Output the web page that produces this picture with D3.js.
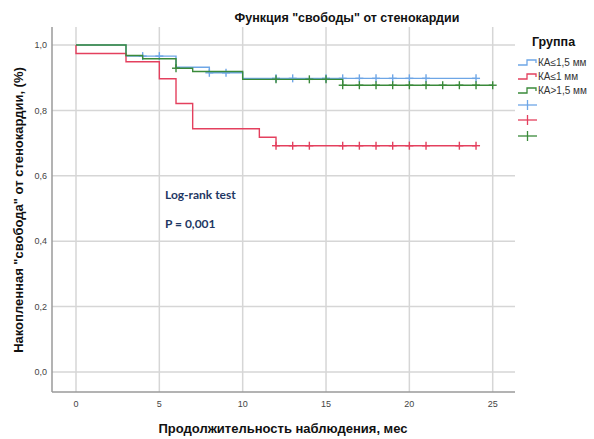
<!DOCTYPE html>
<html><head><meta charset="utf-8">
<script src="https://cdn.jsdelivr.net/npm/d3@7"></script>
<style>body{margin:0;background:#fff}svg{display:block}</style>
</head><body>
<svg id="c" width="594" height="439"></svg>
<script>
const groupNames = ["КА≤1,5 мм", "КА≤1 мм", "КА>1,5 мм"];
const groupColors = ["#6ea6e6", "#e4405e", "#3a8a3a"];
const xTicks = [0, 5, 10, 15, 20, 25];
const yTicks = [0, 0.2, 0.4, 0.6, 0.8, 1.0];

const blueTimes = [0, 3, 6, 8, 10, 24];
const blueSurv  = [1, 0.966, 0.932, 0.915, 0.898, 0.898];
const blueCens  = [4, 5, 8, 9, 12, 13, 15, 16, 17, 18, 19, 20, 21, 24];

const redTimes = [0, 0, 3, 5, 6, 7, 11, 12, 24];
const redSurv  = [1, 0.974, 0.949, 0.897, 0.821, 0.744, 0.718, 0.692, 0.692];
const redCens  = [12, 13, 14, 16, 17, 18, 19, 20, 21, 23, 24];

const greenTimes = [0, 3, 4, 6, 7, 10, 16, 25];
const greenSurv  = [1, 0.968, 0.958, 0.929, 0.919, 0.895, 0.877, 0.877];
const greenCens  = [6, 12, 14, 15, 16, 17, 18, 19, 20, 21, 22, 23, 24, 25];

const series = [
  {times: blueTimes, surv: blueSurv, cens: blueCens},
  {times: redTimes, surv: redSurv, cens: redCens},
  {times: greenTimes, surv: greenSurv, cens: greenCens}
];

const svg = d3.select("#c");
const x = d3.scaleLinear().domain([0, 25]).range([76, 492.7]);
const y = d3.scaleLinear().domain([0, 1]).range([372, 45]);
const plotL = 52, plotR = 515, plotT = 27, plotB = 392;

// gridlines
svg.append("g").selectAll("line").data(xTicks).join("line")
  .attr("x1", d => x(d)).attr("x2", d => x(d))
  .attr("y1", plotT).attr("y2", plotB)
  .attr("stroke", "#d6d6d6").attr("stroke-width", 1.5);
svg.append("g").selectAll("line").data(yTicks).join("line")
  .attr("x1", plotL).attr("x2", plotR)
  .attr("y1", d => y(d)).attr("y2", d => y(d))
  .attr("stroke", "#d6d6d6").attr("stroke-width", 1.5);

// axes lines
svg.append("line").attr("x1", plotL).attr("x2", plotL).attr("y1", plotT).attr("y2", plotB)
  .attr("stroke", "#9a9a9a").attr("stroke-width", 1.5);
svg.append("line").attr("x1", plotL).attr("x2", plotR).attr("y1", plotB).attr("y2", plotB)
  .attr("stroke", "#9a9a9a").attr("stroke-width", 1.5);

// tick labels
const fmt = d => d3.format(".1f")(d).replace(".", ",");
svg.append("g").selectAll("text").data(yTicks).join("text")
  .attr("x", 47).attr("y", d => y(d)).attr("dy", "0.35em")
  .attr("text-anchor", "end").attr("font-family", "Liberation Sans, Arial, sans-serif")
  .attr("font-size", 9).attr("fill", "#444").text(fmt);
svg.append("g").selectAll("text").data(xTicks).join("text")
  .attr("x", d => x(d)).attr("y", 404).attr("dy", "0.35em")
  .attr("text-anchor", "middle").attr("font-family", "Liberation Sans, Arial, sans-serif")
  .attr("font-size", 9).attr("fill", "#444").text(d => d);

// curves
const line = d3.line().x(d => x(d[0])).y(d => y(d[1])).curve(d3.curveStepAfter);
series.forEach((s, i) => {
  const pts = s.times.map((t, j) => [t, s.surv[j]]);
  svg.append("path").attr("d", line(pts)).attr("fill", "none")
    .attr("stroke", groupColors[i]).attr("stroke-width", 1.4);
  const survAt = t => { let v = 1; s.times.forEach((tt, j) => { if (tt <= t) v = s.surv[j]; }); return v; };
  const g = svg.append("g").attr("stroke", groupColors[i]).attr("stroke-width", 1.4);
  s.cens.forEach(t => {
    const cx = x(t), cy = y(survAt(t));
    g.append("line").attr("x1", cx - 4).attr("x2", cx + 4).attr("y1", cy).attr("y2", cy);
    g.append("line").attr("x1", cx).attr("x2", cx).attr("y1", cy - 4).attr("y2", cy + 4);
  });
});

// legend
const lg = svg.append("g").attr("font-family", "Liberation Sans, Arial, sans-serif");
lg.append("text").attr("x", 532).attr("y", 46).attr("font-size", 12.5).attr("font-weight", "bold")
  .attr("fill", "#111").text("Группа");
const lyItems = [62, 76, 90];
groupNames.forEach((n, i) => {
  const yy = lyItems[i];
  lg.append("path").attr("d", `M518,${yy + 3}H527V${yy - 2}H536V${yy + 1}`)
    .attr("fill", "none").attr("stroke", groupColors[i]).attr("stroke-width", 1.3);
  lg.append("text").attr("x", 538).attr("y", yy).attr("dy", "0.35em").attr("font-size", 10)
    .attr("fill", "#333").text(n);
});
const lyCross = [105, 120, 136];
groupNames.forEach((n, i) => {
  const yy = lyCross[i];
  lg.append("line").attr("x1", 518).attr("x2", 537).attr("y1", yy).attr("y2", yy)
    .attr("stroke", groupColors[i]).attr("stroke-width", 1.3);
  lg.append("line").attr("x1", 527.5).attr("x2", 527.5).attr("y1", yy - 5).attr("y2", yy + 5)
    .attr("stroke", groupColors[i]).attr("stroke-width", 1.3);
});

// titles
svg.append("text").attr("x", 347).attr("y", 22).attr("text-anchor", "middle")
  .attr("font-family", "Liberation Sans, Arial, sans-serif").attr("font-size", 12.5)
  .attr("font-weight", "bold").attr("fill", "#111").text('Функция "свободы" от стенокардии');
svg.append("text").attr("x", 283).attr("y", 433).attr("text-anchor", "middle")
  .attr("font-family", "Liberation Sans, Arial, sans-serif").attr("font-size", 13)
  .attr("font-weight", "bold").attr("fill", "#111").text("Продолжительность наблюдения, мес");
svg.append("text").attr("transform", "translate(23,210) rotate(-90)").attr("text-anchor", "middle")
  .attr("font-family", "Liberation Sans, Arial, sans-serif").attr("font-size", 13)
  .attr("font-weight", "bold").attr("fill", "#111").text('Накопленная "свобода" от стенокардии, (%)');

// annotation
svg.append("text").attr("x", 165).attr("y", 199).attr("font-family", "Lato, Open Sans, sans-serif")
  .attr("font-size", 12).attr("font-weight", "bold").attr("fill", "#1f3864").text("Log-rank test");
svg.append("text").attr("x", 165).attr("y", 228).attr("font-family", "Lato, Open Sans, sans-serif")
  .attr("font-size", 12).attr("font-weight", "bold").attr("fill", "#1f3864").text("P = 0,001");
</script>
</body></html>
